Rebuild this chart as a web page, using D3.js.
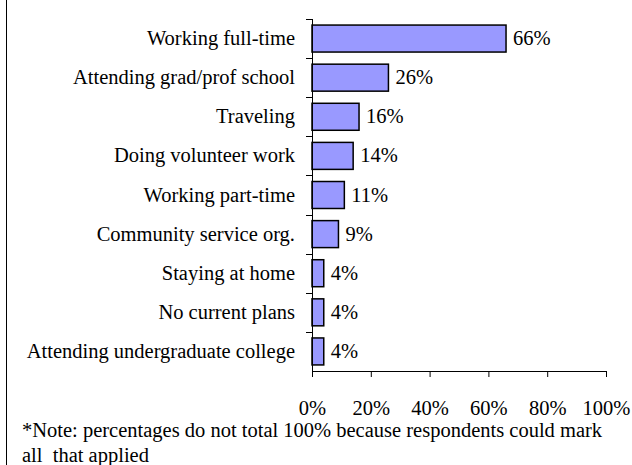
<!DOCTYPE html>
<html>
<head>
<meta charset="utf-8">
<script src="https://cdn.jsdelivr.net/npm/d3@7"></script>
<style>
  body { margin: 0; background: #fff; }
  svg text { font-family: "Liberation Serif", "Times New Roman", serif; fill: #000; }
</style>
</head>
<body>
<div id="chart"></div>
<script>
const categories = [
  "Working full-time",
  "Attending grad/prof school",
  "Traveling",
  "Doing volunteer work",
  "Working part-time",
  "Community service org.",
  "Staying at home",
  "No current plans",
  "Attending undergraduate college"
];
const values = [66, 26, 16, 14, 11, 9, 4, 4, 4];
const xTicks = [0, 20, 40, 60, 80, 100];
const noteLines = [
  "*Note: percentages do not total 100% because respondents could mark",
  "all  that applied"
];

const width = 632, height = 465;
const fontSize = "20.5px";
const svg = d3.select("#chart").append("svg")
  .attr("width", width)
  .attr("height", height);

// left frame edge
svg.append("line")
  .attr("x1", 6.5).attr("x2", 6.5)
  .attr("y1", 0).attr("y2", height)
  .style("stroke", "#000");

let x = d3.scaleLinear().domain([0, 100]).range([312, 606]);
let y = d3.scaleBand().domain(categories).range([19, 371])
  .paddingInner(0.31).paddingOuter(0.155);

let step = y.step();
let yTop = y.range()[0];

// bars
svg.selectAll("rect.bar")
  .data(values)
  .enter().append("rect")
  .attr("class", "bar")
  .attr("x", x(0))
  .attr("y", (d, i) => y(categories[i]))
  .attr("width", d => x(d) - x(0))
  .attr("height", y.bandwidth())
  .style("fill", "#9999ff")
  .style("stroke", "#000")
  .style("stroke-width", "1.5px");

// value labels
svg.selectAll("text.val")
  .data(values)
  .enter().append("text")
  .attr("class", "val")
  .attr("x", d => x(d) + 7)
  .attr("y", (d, i) => y(categories[i]) + y.bandwidth() / 2 + 6.5)
  .style("font-size", fontSize)
  .text(d => d + "%");

// category labels
svg.selectAll("text.cat")
  .data(categories)
  .enter().append("text")
  .attr("class", "cat")
  .attr("x", 295)
  .attr("y", d => y(d) + y.bandwidth() / 2 + 6.5)
  .attr("text-anchor", "end")
  .style("font-size", fontSize)
  .text(d => d);

// y axis line and band-boundary ticks
svg.append("line")
  .attr("x1", x(0) + 0.5).attr("x2", x(0) + 0.5)
  .attr("y1", yTop).attr("y2", y.range()[1])
  .style("stroke", "#000");

svg.selectAll("line.ytick")
  .data(d3.range(categories.length))
  .enter().append("line")
  .attr("class", "ytick")
  .attr("x1", x(0) - 6).attr("x2", x(0))
  .attr("y1", i => Math.round(yTop + i * step) + 0.5)
  .attr("y2", i => Math.round(yTop + i * step) + 0.5)
  .style("stroke", "#000");

// x axis
let xAxis = d3.axisBottom(x)
  .tickValues(xTicks)
  .tickSize(6)
  .tickPadding(23)
  .tickFormat(d => d + "%");

let gx = svg.append("g")
  .attr("transform", "translate(0," + y.range()[1] + ")")
  .call(xAxis);
gx.select(".domain").attr("d", "M" + x(0) + ",0.5H" + x(100)).style("stroke", "#000");
gx.selectAll(".tick line").style("stroke", "#000");
gx.selectAll(".tick text")
  .style("font-family", "Liberation Serif, Times New Roman, serif")
  .style("font-size", fontSize);

// note
svg.selectAll("text.note")
  .data(noteLines)
  .enter().append("text")
  .attr("class", "note")
  .attr("x", 22)
  .attr("y", (d, i) => 437 + i * 25)
  .style("font-size", fontSize)
  .style("white-space", "pre")
  .text(d => d);
</script>
</body>
</html>
